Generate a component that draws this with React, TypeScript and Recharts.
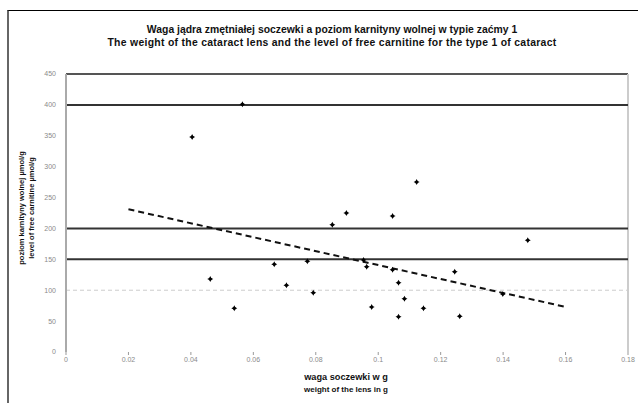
import React from "react";
import {
  ScatterChart,
  Scatter,
  XAxis,
  YAxis,
  ReferenceLine,
  ZAxis,
} from "recharts";

// waga soczewki (g) i poziom karnityny wolnej
const weight = [
  0.0404, 0.0565, 0.0462, 0.0539, 0.0667, 0.0706, 0.0773, 0.0792, 0.0853,
  0.0898, 0.0953, 0.0963, 0.0979, 0.1046, 0.1046, 0.1065, 0.1084, 0.1065,
  0.1123, 0.1145, 0.1245, 0.1261, 0.1399, 0.1479,
];
const carnitine = [
  348, 401, 118, 71, 142, 108, 147, 96, 206, 225, 149, 138, 73, 133, 220, 112,
  86, 57, 275, 71, 130, 58, 94, 181,
];
const trendX = [0.02, 0.16];
const trendY = [231, 73];
const xTicks = [0, 0.02, 0.04, 0.06, 0.08, 0.1, 0.12, 0.14, 0.16, 0.18];
const yTicks = [0, 50, 100, 150, 200, 250, 300, 350, 400, 450];
const solidLines = [150, 200, 400];

const points = weight.map((w, i) => ({ x: w, y: carnitine[i] }));
const trend = trendX.map((w, i) => ({ x: w, y: trendY[i] }));

const tickStyle = { fill: "#8a8a8a", fontSize: 7, fontFamily: "Liberation Sans" };

const Star = (props: any) => {
  const { cx, cy } = props;
  return (
    <g>
      <path
        d={`M${cx},${cy - 3} L${cx + 1},${cy - 1} L${cx + 3},${cy} L${cx + 1},${cy + 1} L${cx},${cy + 3} L${cx - 1},${cy + 1} L${cx - 3},${cy} L${cx - 1},${cy - 1} Z`}
        fill="#000"
      />
      <circle cx={cx} cy={cy} r={1.5} fill="#000" />
    </g>
  );
};

const App: React.FC = () => {
  return (
    <div
      style={{
        position: "absolute",
        left: 0,
        top: 0,
        width: 638,
        height: 403,
        background: "#fff",
        fontFamily: "Liberation Sans",
      }}
    >
      {/* ramka */}
      <div
        style={{
          position: "absolute",
          left: 7,
          top: 10,
          width: 640,
          height: 400,
          borderTop: "1px solid #000",
          borderLeft: "2px solid #666",
        }}
      />
      {/* tytuł */}
      <div
        style={{
          position: "absolute",
          left: 0,
          top: 23,
          width: 664,
          textAlign: "center",
          fontWeight: "bold",
          lineHeight: "13px",
          color: "#111",
          whiteSpace: "nowrap",
        }}
      >
        <div style={{ fontSize: 10.4 }}>
          Waga jądra zmętniałej soczewki a poziom karnityny wolnej w typie zaćmy 1
        </div>
        <div style={{ fontSize: 10.4, letterSpacing: 0.3 }}>
          The weight of the cataract lens and the level of free carnitine for the type 1 of cataract
        </div>
      </div>
      <ScatterChart
        width={638}
        height={403}
        margin={{ top: 74, right: 10, bottom: 31, left: 36 }}
      >
        <XAxis
          type="number"
          dataKey="x"
          domain={[0, 0.18]}
          ticks={xTicks}
          interval={0}
          height={20}
          axisLine={false}
          tickLine={{ stroke: "#999" }}
          tickSize={3}
          tick={tickStyle}
          tickFormatter={(v: number) => String(v)}
        />
        <YAxis
          type="number"
          dataKey="y"
          domain={[0, 450]}
          ticks={yTicks}
          interval={0}
          axisLine={{ stroke: "#aaa", strokeWidth: 2 }}
          tickLine={false}
          tickMargin={4}
          width={30}
          tick={tickStyle}
        />
        <ZAxis range={[30, 30]} />
        <ReferenceLine y={450} stroke="#555" strokeWidth={2} />
        <ReferenceLine x={0.18} stroke="#ccc" strokeWidth={2} />
        <ReferenceLine y={100} stroke="#ccc" strokeDasharray="4 3" />
        {solidLines.map((v) => (
          <ReferenceLine key={v} y={v} stroke="#333" strokeWidth={2} />
        ))}
        <Scatter
          data={trend}
          line={{ stroke: "#111", strokeWidth: 2, strokeDasharray: "6 4" }}
          shape={() => <g />}
          isAnimationActive={false}
        />
        <Scatter data={points} shape={<Star />} isAnimationActive={false} />
      </ScatterChart>
      {/* oś Y */}
      <div
        style={{
          position: "absolute",
          left: 27,
          top: 208,
          transform: "translate(-50%, -50%) rotate(-90deg)",
          whiteSpace: "nowrap",
          textAlign: "center",
          fontSize: 7.5,
          fontWeight: "bold",
          lineHeight: "10px",
          color: "#111",
        }}
      >
        <div>poziom karnityny wolnej µmol/g</div>
        <div>level of free carnitine µmol/g</div>
      </div>
      {/* oś X */}
      <div
        style={{
          position: "absolute",
          left: 0,
          top: 371,
          width: 692,
          textAlign: "center",
          color: "#111",
          fontWeight: "bold",
          whiteSpace: "nowrap",
        }}
      >
        <div style={{ fontSize: 9.2, lineHeight: "13px" }}>waga soczewki w g</div>
        <div style={{ fontSize: 8, lineHeight: "11px" }}>weight of the lens in g</div>
      </div>
    </div>
  );
};

export default App;
